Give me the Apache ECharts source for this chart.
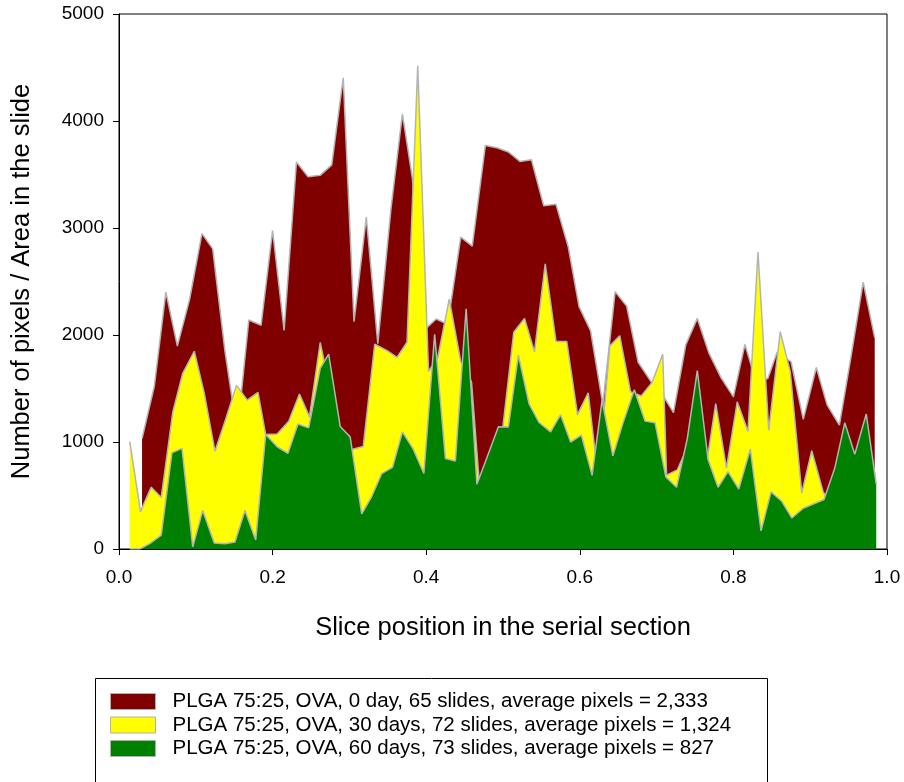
<!DOCTYPE html>
<html>
<head>
<meta charset="utf-8">
<script src="https://cdn.jsdelivr.net/npm/echarts@6/dist/echarts.min.js"></script>
<style>
html,body{margin:0;padding:0;background:#fff;}
#chart{width:904px;height:782px;}
</style>
</head>
<body>
<div id="chart"></div>
<script>
// Series names
const seriesNames = [
  'PLGA 75:25, OVA, 0 day, 65 slides, average pixels = 2,333',
  'PLGA 75:25, OVA, 30 days, 72 slides, average pixels = 1,324',
  'PLGA 75:25, OVA, 60 days, 73 slides, average pixels = 827'
];

// 0 day (dark red)
const redX = [0.030,0.046,0.061,0.076,0.092,0.108,0.122,0.138,0.154,0.169,0.185,0.200,0.215,0.231,0.246,0.262,0.277,0.292,0.306,0.322,0.337,0.354,0.369,0.382,0.398,0.413,0.428,0.445,0.460,0.477,0.492,0.507,0.522,0.537,0.553,0.569,0.585,0.599,0.614,0.630,0.646,0.661,0.676,0.694,0.707,0.722,0.738,0.753,0.768,0.784,0.800,0.815,0.830,0.845,0.857,0.875,0.891,0.908,0.922,0.938,0.953,0.969,0.984];
const redY = [1033,1521,2400,1896,2335,2948,2805,1847,1085,2140,2091,2977,2042,3616,3480,3492,3590,4404,2124,3101,1919,3171,4066,3465,2050,2150,2100,2914,2831,3770,3750,3710,3622,3638,3208,3221,2822,2265,2040,1350,2405,2270,1745,1550,1450,1275,1908,2155,1833,1600,1421,1912,1550,1595,1840,1750,1212,1696,1347,1157,1790,2495,1973];

// 30 days (yellow)
const yellowX = [0.014,0.028,0.042,0.055,0.070,0.083,0.098,0.111,0.125,0.139,0.153,0.167,0.181,0.191,0.206,0.221,0.235,0.248,0.262,0.276,0.289,0.303,0.318,0.333,0.349,0.362,0.375,0.389,0.403,0.415,0.430,0.445,0.459,0.469,0.483,0.500,0.514,0.528,0.541,0.555,0.569,0.583,0.597,0.611,0.624,0.639,0.652,0.666,0.680,0.694,0.708,0.713,0.727,0.740,0.751,0.763,0.777,0.791,0.805,0.819,0.832,0.846,0.861,0.874,0.889,0.902,0.917,0.931,0.945,0.958,0.972,0.985];
const yellowY = [1003,349,578,481,1278,1642,1848,1457,913,1214,1529,1391,1463,1070,1075,1193,1448,1235,1930,1450,1000,930,957,1915,1853,1790,1932,4517,1660,1785,2336,1750,1560,630,900,1150,2026,2155,1842,2664,1940,1940,1256,1460,650,1896,1993,1470,1430,1555,1821,690,740,950,900,700,1358,756,1375,1098,2775,1108,2030,1660,522,918,530,400,600,600,800,701];

// 60 days (green)
const greenX = [0.014,0.027,0.040,0.055,0.069,0.082,0.096,0.109,0.124,0.138,0.151,0.164,0.178,0.191,0.206,0.220,0.233,0.247,0.262,0.273,0.288,0.301,0.316,0.329,0.342,0.356,0.369,0.383,0.397,0.411,0.425,0.438,0.452,0.466,0.479,0.494,0.507,0.520,0.534,0.547,0.562,0.575,0.588,0.602,0.616,0.629,0.643,0.657,0.671,0.685,0.698,0.712,0.726,0.740,0.753,0.767,0.780,0.793,0.807,0.822,0.836,0.849,0.863,0.876,0.891,0.904,0.918,0.932,0.945,0.958,0.973,0.986];
const greenY = [0,0,50,130,900,940,20,360,55,50,65,360,85,1070,955,895,1168,1132,1687,1822,1145,1048,328,490,704,762,1094,935,705,2007,846,822,2245,605,852,1143,1141,1812,1355,1182,1095,1255,1000,1065,688,1391,870,1195,1489,1195,1179,674,577,1033,1668,837,577,723,560,935,169,534,446,290,381,420,462,756,1179,886,1261,607];

// Axis ticks
const xTicks = [0.0,0.2,0.4,0.6,0.8,1.0];
const yTicks = [0,1000,2000,3000,4000,5000];

const colors = ['#800000','#ffff00','#008000'];
const FONT = '"Liberation Sans", Arial, sans-serif';

function pairs(xs, ys){ return xs.map((x,i)=>[x, ys[i]]); }
const allData = [pairs(redX, redY), pairs(yellowX, yellowY), pairs(greenX, greenY)];

const legendTops = [691, 714.5, 738];

const chart = echarts.init(document.getElementById('chart'));
chart.setOption({
  animation: false,
  backgroundColor: '#fff',
  grid: {left:119, right:17, top:14, bottom:233, show:true, borderColor:'#000', borderWidth:1},
  xAxis: {
    type:'value', min:xTicks[0], max:xTicks[xTicks.length-1], interval:0.2,
    axisLine:{show:true, onZero:false, lineStyle:{color:'#000', width:1}},
    axisTick:{show:true, inside:false, length:6, lineStyle:{color:'#000'}},
    splitLine:{show:false},
    axisLabel:{color:'#000', fontSize:19, fontFamily:FONT, margin:19, formatter:v=>v.toFixed(1)},
    name:'Slice position in the serial section', nameLocation:'middle', nameGap:66,
    nameTextStyle:{color:'#000', fontSize:25.5, fontFamily:FONT}
  },
  yAxis: {
    type:'value', min:yTicks[0], max:yTicks[yTicks.length-1], interval:1000,
    axisLine:{show:true, lineStyle:{color:'#000', width:1}},
    axisTick:{show:true, inside:false, length:6, lineStyle:{color:'#000'}},
    splitLine:{show:false},
    axisLabel:{color:'#000', fontSize:19, fontFamily:FONT, margin:15, formatter:v=>String(v)},
    name:'Number of pixels / Area in the slide', nameLocation:'middle', nameGap:84,
    nameTextStyle:{color:'#000', fontSize:25.5, fontFamily:FONT}
  },
  legend: seriesNames.map((n,i)=>({
    orient:'vertical', left:110, top:legendTops[i], padding:0, itemWidth:45, itemHeight:16,
    icon:'rect', selectedMode:false,
    textStyle:{color:'#000', fontSize:20.5, fontFamily:FONT, padding:[0,0,0,12]},
    data:[{name:n, itemStyle:{color:colors[i], borderColor:'#b0b0b0', borderWidth:1}}]
  })),
  graphic: [{
    type:'rect', silent:true, z:-1,
    shape:{x:95.5, y:678.5, width:672, height:120},
    style:{fill:'none', stroke:'#000', lineWidth:1}
  }],
  series: seriesNames.map((n,i)=>({
    name:n, type:'line', data:allData[i], symbol:'none', smooth:false,
    color: colors[i],
    lineStyle:{color:'#b4b4b4', width:1.5},
    areaStyle:{color:colors[i], opacity:1},
    z: 2+i
  }))
});
</script>
</body>
</html>
